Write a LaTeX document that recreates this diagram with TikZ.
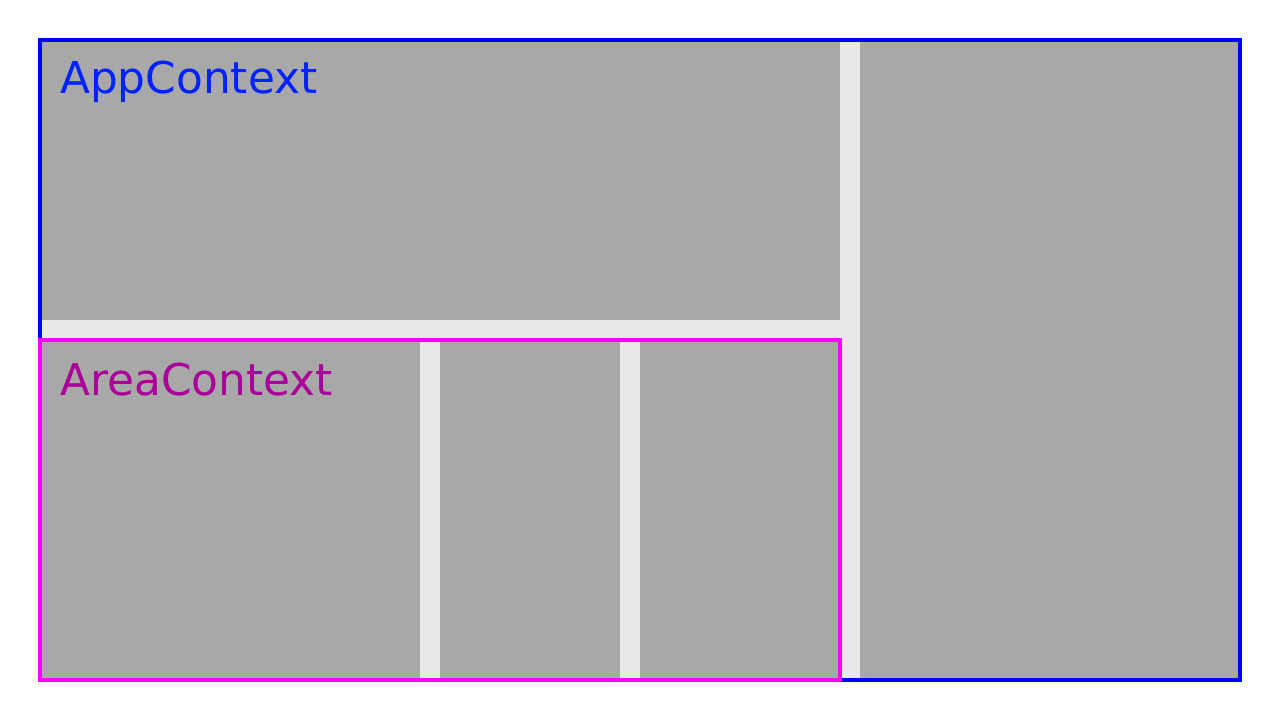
\documentclass[tikz,border=0pt]{standalone}
\usepackage{fontspec}
\setmainfont{DejaVu Sans}
\definecolor{bgl}{HTML}{E8E8E8}
\definecolor{boxg}{HTML}{A8A8A8}
\definecolor{appblue}{HTML}{0000FF}
\definecolor{apptext}{HTML}{0022FF}
\definecolor{areamag}{HTML}{FF00FF}
\definecolor{areatext}{HTML}{AA0099}
\begin{document}
\begin{tikzpicture}[x=1pt,y=-1pt,
  panel/.style={fill=boxg,draw=none},
  ctx/.style={line width=3.8pt,fill=none},
  lbl/.style={anchor=base west,inner sep=0pt,font=\fontsize{43.8}{50}\selectfont}]
\useasboundingbox (0,0) rectangle (1280,720);
\fill[white] (0,0) rectangle (1280,720);
\fill[bgl] (40,40) rectangle (1240,680);
\path[panel] (40,40) rectangle (840,320);
\path[panel] (860,40) rectangle (1240,680);
\path[panel] (40,340) rectangle (420,680);
\path[panel] (440,340) rectangle (620,680);
\path[panel] (640,340) rectangle (840,680);
\draw[ctx,draw=appblue] (40,40) rectangle (1240,680);
\draw[ctx,draw=areamag] (40,340) rectangle (840,680);
\node[lbl,text=apptext] (app) at (60,93) {AppContext};
\node[lbl,text=areatext] (area) at (60,395) {AreaContext};
\end{tikzpicture}
\end{document}
